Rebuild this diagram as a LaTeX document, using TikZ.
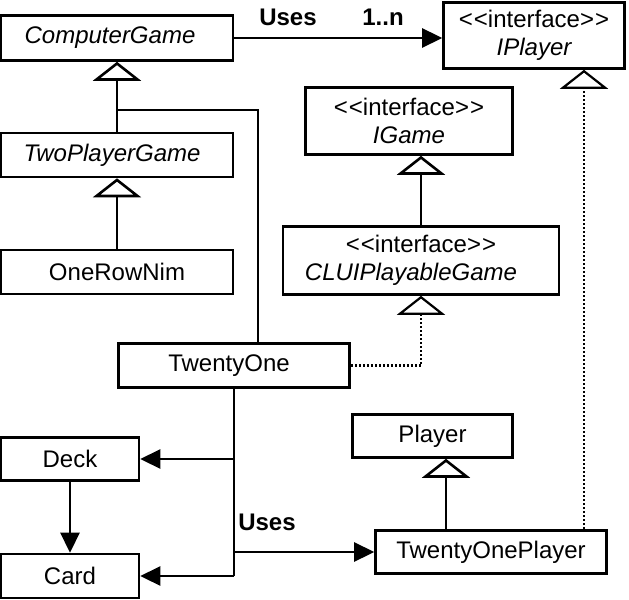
\documentclass[tikz,border=0pt]{standalone}
\usepackage{fontspec}
\newfontfamily\uifont{Liberation Sans}
\usetikzlibrary{arrows.meta}
\begin{document}
\begin{tikzpicture}[x=1bp,y=-1bp,
  cls/.style={draw, line width=2.6bp, inner sep=0pt, align=center,
    font=\uifont\fontsize{24bp}{28bp}\selectfont},
  inherit/.style={line width=2.6bp,
    -{Triangle[open,length=19bp,width=48bp,fill=white]}},
  realize/.style={line width=2.2bp, dash pattern=on 2bp off 2bp,
    -{Triangle[open,length=19bp,width=48bp,fill=white]}},
  plain/.style={line width=2.6bp},
  uses/.style={line width=2.6bp, -{Triangle[length=20bp,width=19bp]}},
  lbl/.style={inner sep=0pt, font=\uifont\bfseries\fontsize{24bp}{28bp}\selectfont}
]
\useasboundingbox (0,0) rectangle (629,600);

% classes
\node[cls, minimum width=232bp, minimum height=45bp] (cg) at (117,38) {\itshape ComputerGame\kern14bp};
\node[cls, minimum width=232bp, minimum height=44bp] (tpg) at (117,155) {\itshape TwoPlayerGame\kern10bp};
\node[cls, minimum width=232bp, minimum height=44bp] (orn) at (117,272) {OneRowNim};
\node[cls, minimum width=231bp, minimum height=44bp] (t21) at (234,365.5) {TwentyOne\kern10bp};
\node[cls, minimum width=138bp, minimum height=43bp] (deck) at (70,459) {Deck};
\node[cls, minimum width=138bp, minimum height=44bp] (card) at (70,576) {Card};
\node[cls, minimum width=231bp, minimum height=43bp] (t21p) at (491,552) {TwentyOnePlayer};
\node[cls, minimum width=160bp, minimum height=43bp] (player) at (432.5,436) {Player};
\node[cls, minimum width=181bp, minimum height=66bp] (ip) at (534,35.5) {<\kern1bp<interface>\kern1bp>\\\itshape IPlayer};
\node[cls, minimum width=207bp, minimum height=67bp] (ig) at (409,121) {<\kern1bp<interface>\kern1bp>\\\itshape IGame};
\node[cls, minimum width=276bp, minimum height=68bp] (clui) at (421,260.5) {<\kern1bp<interface>\kern1bp>\\\itshape CLUIPlayableGame\kern20bp};

% labels
\node[lbl] (uses1) at (288,17) {Uses};
\node[lbl] (mult) at (383,17) {1..n};
\node[lbl] (uses2) at (267,522) {Uses};

% ComputerGame uses IPlayer
\draw[uses] (cg.east) -- (cg.east -| ip.west);

% inheritance
\draw[inherit] (tpg.north) -- (cg.south);
\draw[inherit] (orn.north) -- (tpg.south);
\coordinate (junc) at (117,110);
\draw[plain] (t21.north -| 258,0) |- (junc);
\draw[inherit] (clui.north) -- (clui.north |- ig.south);
\draw[inherit] (t21p.north -| 446,0) -- (player.south -| 446,0);

% realization
\draw[realize] (t21.east) -| (clui.south);
\draw[realize] (t21p.north -| 584,0) -- (ip.south -| 584,0);

% TwentyOne uses
\draw[plain] (t21.south) -- (t21.south |- card.east);
\draw[uses] (t21.south |- card.east) -- (card.east);
\draw[uses] (t21.south |- deck.east) -- (deck.east);
\draw[uses] (t21.south |- t21p.west) -- (t21p.west);

% Deck uses Card
\draw[uses] (deck.south) -- (card.north);
\end{tikzpicture}
\end{document}
